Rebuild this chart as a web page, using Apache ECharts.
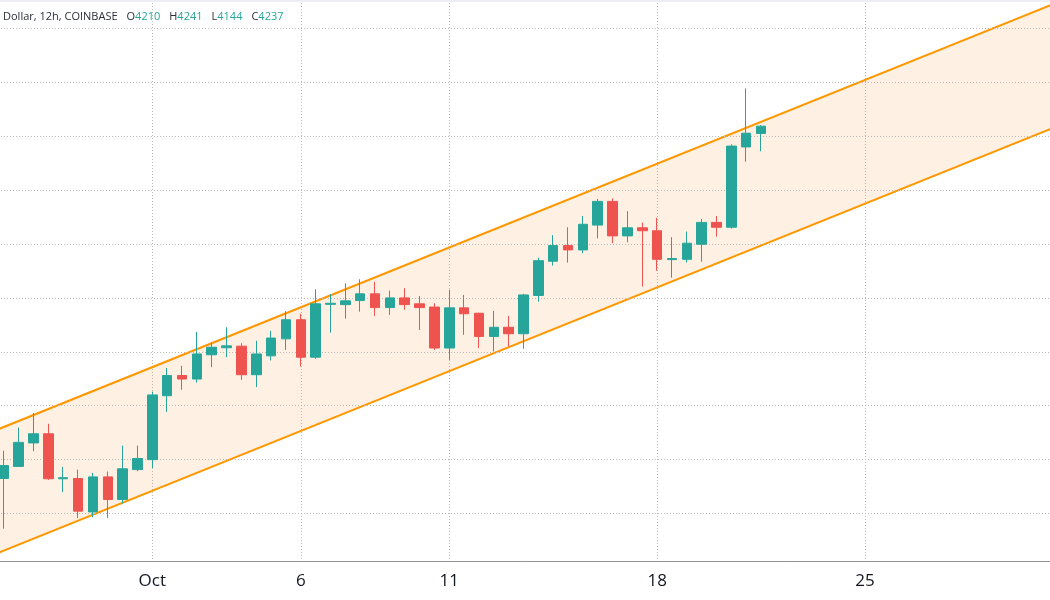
<!DOCTYPE html>
<html>
<head>
<meta charset="utf-8">
<script src="https://cdn.jsdelivr.net/npm/echarts@6/dist/echarts.min.js"></script>
<style>
  html, body { margin: 0; padding: 0; background: #ffffff; overflow: hidden; width: 1050px; height: 600px; }
  #chart { position: absolute; left: -11px; top: 0; width: 1069px; height: 600px; }
  #topline { position: absolute; left: 0; top: 0; width: 1050px; height: 2px; background: #eceef3; z-index: 5; }
</style>
</head>
<body>
<div id="chart"></div>
<div id="topline"></div>
<script>
// 12h slots shown on the axis (category axis)
const categories = [
  '2021-09-25 12:00',
  '2021-09-26 00:00','2021-09-26 12:00','2021-09-27 00:00','2021-09-27 12:00','2021-09-28 00:00','2021-09-28 12:00',
  '2021-09-29 00:00','2021-09-29 12:00','2021-09-30 00:00','2021-09-30 12:00',
  '2021-10-01 00:00','2021-10-01 12:00','2021-10-02 00:00','2021-10-02 12:00','2021-10-03 00:00','2021-10-03 12:00',
  '2021-10-04 00:00','2021-10-04 12:00','2021-10-05 00:00','2021-10-05 12:00','2021-10-06 00:00','2021-10-06 12:00',
  '2021-10-07 00:00','2021-10-07 12:00','2021-10-08 00:00','2021-10-08 12:00','2021-10-09 00:00','2021-10-09 12:00',
  '2021-10-10 00:00','2021-10-10 12:00','2021-10-11 00:00','2021-10-11 12:00','2021-10-12 00:00','2021-10-12 12:00',
  '2021-10-13 00:00','2021-10-13 12:00','2021-10-14 00:00','2021-10-14 12:00','2021-10-15 00:00','2021-10-15 12:00',
  '2021-10-16 00:00','2021-10-16 12:00','2021-10-17 00:00','2021-10-17 12:00','2021-10-18 00:00','2021-10-18 12:00',
  '2021-10-19 00:00','2021-10-19 12:00','2021-10-20 00:00','2021-10-20 12:00','2021-10-21 00:00','2021-10-21 12:00',
  '2021-10-22 00:00','2021-10-22 12:00','2021-10-23 00:00','2021-10-23 12:00','2021-10-24 00:00','2021-10-24 12:00',
  '2021-10-25 00:00','2021-10-25 12:00','2021-10-26 00:00','2021-10-26 12:00','2021-10-27 00:00','2021-10-27 12:00',
  '2021-10-28 00:00','2021-10-28 12:00','2021-10-29 00:00','2021-10-29 12:00','2021-10-30 00:00','2021-10-30 12:00',
  '2021-10-31 00:00','2021-10-31 12:00'
];

// axis tick labels
const tickDates  = ['2021-10-01 00:00','2021-10-06 00:00','2021-10-11 00:00','2021-10-18 00:00','2021-10-25 00:00'];
const tickLabels = ['Oct','6','11','18','25'];

// candles, starting at this slot
const firstCandle = '2021-09-26 00:00';
const opens  = [2930,2975,3062,3096,2929,2930,2806,2936,2852,2963,
                3000,3237,3312,3299,3389,3415,3421,3315,3385,3448,
                3519,3380,3576,3575,3590,3615,3564,3600,3578,3566,
                3414,3563,3543,3457,3491,3467,3609,3736,3794,3778,
                3870,3958,3830,3860,3849,3742,3743,3799,3880,3862,
                4160,4210];
const highs  = [3033,3119,3173,3133,2973,2963,2951,2956,3052,3052,
                3252,3340,3348,3474,3434,3491,3432,3441,3478,3551,
                3541,3632,3614,3654,3669,3660,3627,3636,3607,3580,
                3630,3611,3545,3552,3533,3615,3749,3833,3862,3904,
                3967,3969,3922,3879,3897,3825,3846,3893,3904,4170,
                4377,4241];
const lows   = [2744,2974,3031,2925,2879,2784,2786,2784,2837,2957,
                2969,3177,3259,3286,3343,3380,3296,3269,3368,3407,
                3346,3374,3471,3523,3549,3533,3537,3556,3481,3407,
                3370,3463,3414,3401,3420,3411,3586,3720,3731,3766,
                3821,3803,3806,3642,3701,3675,3731,3734,3827,3857,
                4105,4144];
const closes = [2978,3064,3096,2929,2933,2809,2936,2852,2966,3004,
                3240,3312,3299,3392,3417,3422,3315,3392,3451,3519,
                3380,3578,3580,3589,3615,3564,3600,3575,3564,3414,
                3563,3541,3457,3491,3467,3611,3738,3794,3778,3873,
                3958,3830,3860,3849,3743,3746,3803,3880,3862,4163,
                4211,4237];

// parallel channel (two end points each)
const channelDates = ['2021-09-25 12:00', '2021-10-31 12:00'];
const channelUpper = [3099, 4697];
const channelLower = [2640, 4238];

// price grid levels
const priceLevels = [2800, 3000, 3200, 3400, 3600, 3800, 4000, 4200, 4400, 4600];
const yMin = 2624, yMax = 4705;

const UP = '#26a69a', DOWN = '#ef5350';

const start = categories.indexOf(firstCandle);
const candleData = [];
for (let k = 0; k < start; k++) candleData.push('-');
for (let j = 0; j < opens.length; j++) candleData.push([opens[j], closes[j], lows[j], highs[j]]);

const last = opens.length - 1;
const isTick = (idx, val) => tickDates.indexOf(val) >= 0;
const c0 = categories.indexOf(channelDates[0]);
const c1 = categories.indexOf(channelDates[1]);

const chart = echarts.init(document.getElementById('chart'), null, { renderer: 'canvas' });
const FONT = "'Open Sans', 'DejaVu Sans', sans-serif";
chart.setOption({
  animation: false,
  backgroundColor: '#ffffff',
  title: {
    left: 14, top: 10, padding: 0,
    text: '{t|Dollar, 12h, COINBASE}{s| }{t|O}{v|' + opens[last] + '}{s| }{t|H}{v|' + highs[last] +
          '}{s| }{t|L}{v|' + lows[last] + '}{s| }{t|C}{v|' + closes[last] + '}',
    textStyle: {
      fontFamily: FONT, fontSize: 11, fontWeight: 'normal', color: '#2a2e39',
      rich: {
        t: { fontFamily: FONT, fontSize: 11, color: '#2a2e39', lineHeight: 14 },
        v: { fontFamily: FONT, fontSize: 11, color: UP, lineHeight: 14 },
        s: { fontFamily: FONT, fontSize: 11, width: 9, lineHeight: 14 }
      }
    }
  },
  grid: { left: 0, right: 0, top: 0, bottom: 39 },
  xAxis: {
    type: 'category',
    data: categories,
    boundaryGap: false,
    axisLine: { show: true, lineStyle: { color: '#8f9299', width: 1 } },
    axisTick: { show: false },
    axisLabel: {
      interval: isTick,
      formatter: (val) => { const i = tickDates.indexOf(val); return i >= 0 ? tickLabels[i] : ''; },
      fontFamily: FONT, fontSize: 17, color: '#131722', margin: 12
    },
    splitLine: { show: true, interval: isTick, lineStyle: { color: '#b8b8b8', type: [1, 2], width: 1 } }
  },
  yAxis: {
    type: 'value', min: yMin, max: yMax, show: false,
    splitLine: { show: false }
  },
  series: [
    {
      type: 'custom',
      silent: true,
      z: 1,
      data: [[c0, channelLower[0]]],
      renderItem: (params, api) => {
        const a = api.coord([c0, channelUpper[0]]);
        const b = api.coord([c1, channelUpper[1]]);
        const c = api.coord([c1, channelLower[1]]);
        const d = api.coord([c0, channelLower[0]]);
        return { type: 'polygon', shape: { points: [a, b, c, d] }, style: { fill: 'rgba(248,150,50,0.13)' } };
      }
    },
    {
      type: 'line',
      z: 3,
      silent: true,
      symbol: 'none',
      data: [[channelDates[0], channelUpper[0]], [channelDates[1], channelUpper[1]]],
      lineStyle: { color: '#ff9800', width: 2 }
    },
    {
      type: 'line',
      z: 3,
      silent: true,
      symbol: 'none',
      data: [[channelDates[0], channelLower[0]], [channelDates[1], channelLower[1]]],
      lineStyle: { color: '#ff9800', width: 2 },
      markLine: {
        silent: true,
        symbol: ['none', 'none'],
        label: { show: false },
        lineStyle: { color: '#b8b8b8', type: [1, 2], width: 1 },
        data: priceLevels.map(v => ({ yAxis: v }))
      }
    },
    {
      type: 'candlestick',
      z: 5,
      barWidth: 10,
      data: candleData,
      itemStyle: {
        color: UP, color0: DOWN,
        borderColor: UP, borderColor0: DOWN,
        borderWidth: 1
      }
    }
  ]
});
</script>
</body>
</html>
